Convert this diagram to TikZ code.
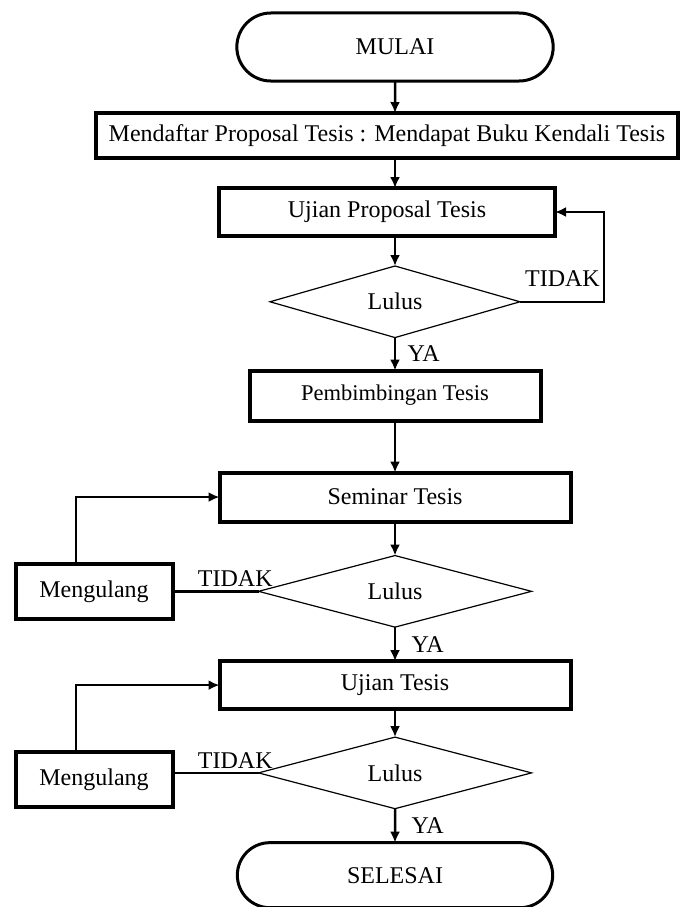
\documentclass[tikz,border=0pt]{standalone}
\usepackage{fontspec}
\setmainfont{Liberation Serif}
\usetikzlibrary{arrows.meta,positioning,shapes.geometric,shapes.misc}

\begin{document}
\begin{tikzpicture}[x=1pt, y=1pt, node distance=32pt,
        every node/.style={font=\fontsize{24}{28}\selectfont},
        terminal/.style={rounded rectangle, draw, line width=3pt, outer sep=0pt, minimum width=323pt, minimum height=68pt},
        proses/.style={rectangle, draw, line width=4pt, outer sep=0pt, minimum height=48pt},
        keputusan/.style={diamond, draw, line width=1.2pt, outer sep=0pt, inner sep=0pt, minimum width=273pt, minimum height=70pt},
        ya/.style={right, xshift=12pt},
        panah/.style={-{Latex[length=11pt,width=10pt]}, line width=2.5pt}]
        \useasboundingbox (0,0) rectangle (681,-907);
        \node[terminal] (mulai) at (395,-47) {MULAI};
        \node[proses, minimum width=582pt, minimum height=45pt, inner xsep=2pt] (daftar) [below=32pt of mulai, xshift=-8pt] {Mendaftar Proposal Tesis : Mendapat Buku Kendali Tesis};
        \node[proses, minimum width=336pt] (ujianprop) [below=30pt of daftar] {Ujian Proposal Tesis};
        \node[keputusan, minimum width=250pt, minimum height=69pt] (lulus1) [below=30pt of ujianprop, xshift=8pt] {Lulus};
        \node[proses, minimum width=291pt, minimum height=50pt, font=\fontsize{22.5}{26}\selectfont] (bimbing) [below=33pt of lulus1] {Pembimbingan Tesis};
        \node[proses, minimum width=351pt, minimum height=49pt] (seminar) [below=52pt of bimbing] {Seminar Tesis};
        \node[keputusan] (lulus2) [below=34pt of seminar] {Lulus};
        \node[proses, minimum width=157pt, minimum height=55pt] (ulang1) [left=86pt of lulus2] {Mengulang};
        \node[proses, minimum width=351pt] (ujian) [below=34pt of lulus2] {Ujian Tesis};
        \node[keputusan, minimum height=71pt] (lulus3) [below=28pt of ujian] {Lulus};
        \node[proses, minimum width=157pt, minimum height=55pt] (ulang2) [left=86pt of lulus3, yshift=-7pt] {Mengulang};
        \node[terminal, minimum width=322pt, minimum height=65pt] (selesai) [below=34pt of lulus3] {SELESAI};
        \draw[panah] (mulai) -- (mulai |- daftar.north);
        \draw[panah] (mulai |- daftar.south) -- (mulai |- ujianprop.north);
        \draw[panah] (mulai |- ujianprop.south) -- (lulus1);
        \draw[panah] (lulus1) -- node[right, xshift=8pt] {YA} (bimbing);
        \draw[panah] (bimbing) -- (seminar);
        \draw[panah] (seminar) -- (lulus2);
        \draw[panah] (lulus2) -- node[ya] {YA} (ujian);
        \draw[panah] (ujian) -- (lulus3);
        \draw[panah] (lulus3) -- node[ya] {YA} (selesai);
        \draw[panah] (lulus1.east) -- ++(84,0) node[above left, inner xsep=3pt, inner ysep=14pt] {TIDAK} |- (ujianprop.east);
        \draw[line width=2.5pt] (lulus2.west) -- node[above, pos=.27] {TIDAK} (lulus2.west -| ulang1.east);
        \draw[panah] ([xshift=-18pt]ulang1.north) |- (seminar.west);
        \draw[line width=2.5pt] (lulus3.west) -- node[above, pos=.27] {TIDAK} (lulus3.west -| ulang2.east);
        \draw[panah] ([xshift=-18pt]ulang2.north) |- (ujian.west);
    \end{tikzpicture}
\end{document}
